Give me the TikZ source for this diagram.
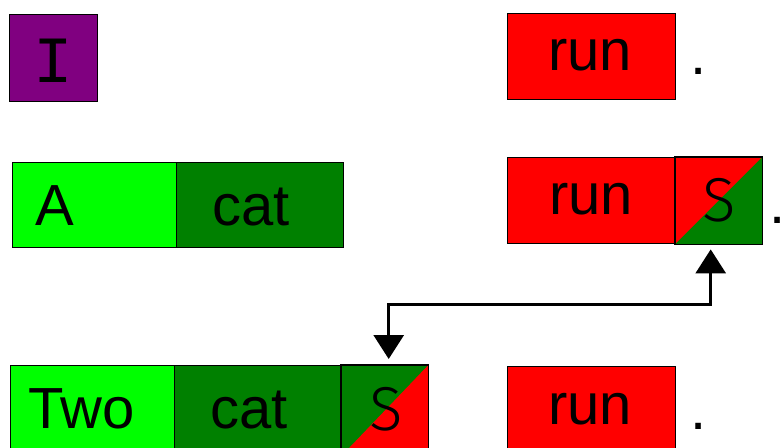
\documentclass[tikz,border=0pt]{standalone}
\usepackage{fontspec}
\setmainfont{Liberation Sans}
\newfontfamily\monofam{Liberation Mono}
\newfontfamily\thinfam{Fira Sans Light}
\usetikzlibrary{arrows.meta}
\definecolor{wpurple}{RGB}{128,0,128}
\definecolor{wred}{RGB}{255,0,0}
\definecolor{wlime}{RGB}{0,255,0}
\definecolor{wgreen}{RGB}{0,128,0}
\tikzset{
  wordbox/.style={draw=black, line width=1.4pt, inner sep=0pt, anchor=north west},
  wordtxt/.style={font=\fontsize{58}{60}\selectfont, inner sep=0pt, anchor=base},
  monotxt/.style={font=\monofam\fontsize{66}{68}\selectfont, inner sep=0pt, anchor=base},
  suffixtxt/.style={font=\thinfam\fontsize{62}{64}\selectfont, inner sep=0pt, anchor=base},
  link/.style={line width=3pt, {Triangle[width=30pt,length=24pt]}-{Triangle[width=30pt,length=24pt]}}
}
\begin{document}
\begin{tikzpicture}[x=1pt, y=-1pt]
\useasboundingbox (0,0) rectangle (783,447);

% row 1: I run .
\node[wordbox, fill=wpurple, minimum width=88pt, minimum height=87pt] (bI) at (9,14) {};
\node[monotxt] (tI) at (53,82) {I};
\node[wordbox, fill=wred, minimum width=168pt, minimum height=86pt] (bRunA) at (507,13) {};
\node[wordtxt] (tRunA) at (590,70) {run};
\node[wordtxt, anchor=base west] (dotA) at (690,74) {\makebox[11pt][l]{.}};

% row 2: A cat   run S .
\node[wordbox, fill=wlime, minimum width=164pt, minimum height=85pt] (bA) at (12,162) {};
\node[wordtxt, anchor=base west] (tA) at (35,225) {A};
\node[wordbox, fill=wgreen, minimum width=167pt, minimum height=85pt] (bCatA) at (176,162) {};
\node[wordtxt] (tCatA) at (251,225) {cat};
\node[wordbox, fill=wred, minimum width=168pt, minimum height=86pt] (bRunB) at (507,157) {};
\node[wordtxt] (tRunB) at (591,214) {run};
\node[wordbox, fill=wred, minimum width=86pt, minimum height=86pt] (bSA) at (675,157) {};
\fill[wgreen] (bSA.south west) -- (bSA.north east) -- (bSA.south east) -- cycle;
\draw[line width=1.4pt] (bSA.south west) rectangle (bSA.north east);
\node[suffixtxt] (tSA) at (719,221) {S};
\node[wordtxt, anchor=base west] (dotB) at (769,223) {\makebox[11pt][l]{.}};

% row 3: Two cat S   run .
\node[wordbox, fill=wlime, minimum width=164pt, minimum height=90pt] (bTwo) at (10,365) {};
\node[wordtxt, anchor=base west] (tTwo) at (28,428) {Two};
\node[wordbox, fill=wgreen, minimum width=166pt, minimum height=90pt] (bCatB) at (174,365) {};
\node[wordtxt] (tCatB) at (249,428) {cat};
\node[wordbox, fill=wgreen, minimum width=86pt, minimum height=90pt] (bSB) at (341,365) {};
\fill[wred] (bSB.south west) -- (bSB.north east) -- (bSB.south east) -- cycle;
\draw[line width=1.4pt] (bSB.south west) rectangle (bSB.north east);
\node[suffixtxt] (tSB) at (386,430) {S};
\node[wordbox, fill=wred, minimum width=168pt, minimum height=90pt] (bRunC) at (507,366) {};
\node[wordtxt] (tRunC) at (590,424) {run};
\node[wordtxt, anchor=base west] (dotC) at (690,429) {\makebox[11pt][l]{.}};

% link between the two S suffixes
\draw[link] ([xshift=-8pt, yshift=-5pt]bSA.south) -- ++(0,55) -| ([xshift=4pt, yshift=6pt]bSB.north);
\end{tikzpicture}
\end{document}
